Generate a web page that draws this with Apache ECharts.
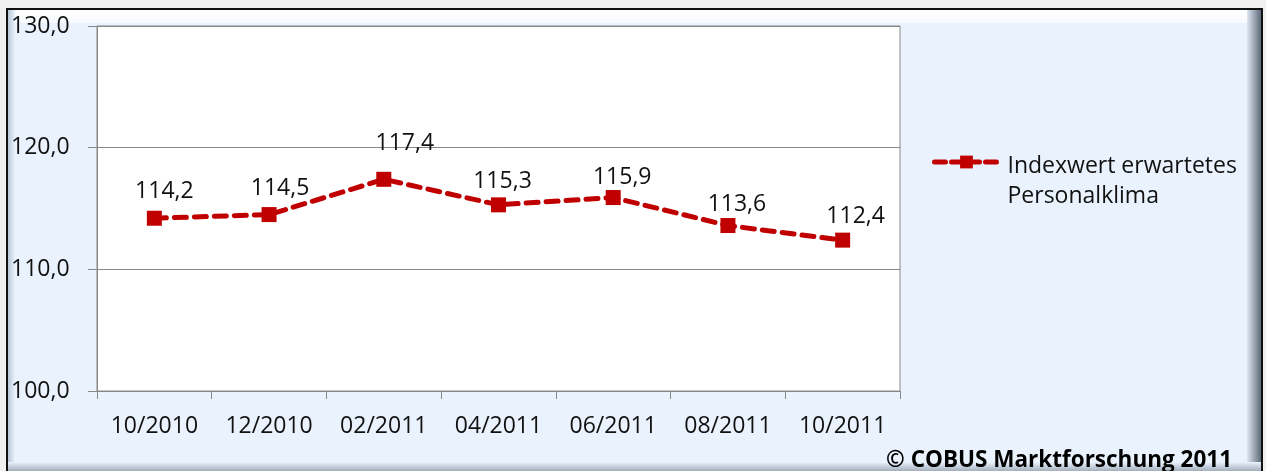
<!DOCTYPE html>
<html><head><meta charset="utf-8">
<script src="https://cdn.jsdelivr.net/npm/echarts@6/dist/echarts.min.js"></script>
<style>html,body{margin:0;padding:0;background:#f0f0f0;}#c{width:1266px;height:471px;}</style>
</head><body><div id="c"></div>
<script>
var categories = ['10/2010','12/2010','02/2011','04/2011','06/2011','08/2011','10/2011'];
var values = [114.2, 114.5, 117.4, 115.3, 115.9, 113.6, 112.4];
var seriesName = 'Indexwert erwartetes Personalklima';
var yTicks = [100, 110, 120, 130];
var copyright = '© COBUS Marktforschung 2011';

// label placement (style only): offsets of each value label from its point, in px
var labelDx = [10, 11, 21, 4, 9, 9, 13];
var labelDy = [-27, -26, -36, -23, -20, -21, -24];

var FONT = '"Open Sans", sans-serif';
var chart = echarts.init(document.getElementById('c'));
function fmt(v){ return v.toFixed(1).replace('.', ','); }
var data = values.map(function(v, i){
  return {value: v, label: {offset: [labelDx[i], labelDy[i]]}};
});
chart.setOption({
  animation: false,
  backgroundColor: '#f0f0f0',
  graphic: [
    {type:'rect', shape:{x:7,y:9,width:1255,height:480}, style:{fill:'#EAF3FD', stroke:'#111', lineWidth:2}, z:-10},
    {type:'rect', shape:{x:8,y:10,width:1253,height:13}, style:{fill:{type:'linear',x:0,y:0,x2:0,y2:1,colorStops:[{offset:0,color:'#ffffff'},{offset:1,color:'#f6faff'}]}}, z:-9},
    {type:'rect', shape:{x:8,y:10,width:7,height:461}, style:{fill:{type:'linear',x:0,y:0,x2:1,y2:0,colorStops:[{offset:0,color:'#b9c6d6'},{offset:1,color:'#EAF3FD'}]}}, z:-9},
    {type:'rect', shape:{x:1247,y:10,width:14,height:461}, style:{fill:{type:'linear',x:0,y:0,x2:1,y2:0,colorStops:[{offset:0,color:'#dfe7f1'},{offset:1,color:'#5f6b7a'}]}}, z:-9},
    {type:'rect', shape:{x:8,y:462,width:1253,height:9}, style:{fill:{type:'linear',x:0,y:0,x2:0,y2:1,colorStops:[{offset:0,color:'#EAF3FD'},{offset:1,color:'#a4afbd'}]}}, z:-9},
    {type:'text', right: 34, top: 449, style:{text: copyright, font: 'bold 22.5px ' + FONT, fill:'#000'}, z:100}
  ],
  grid: {left: 97, top: 26, width: 803, height: 365, show: true, backgroundColor: '#fff', borderColor: '#888', borderWidth: 1},
  legend: {
    left: 927, top: 122, orient: 'vertical',
    itemWidth: 64, itemHeight: 16,
    lineStyle: {width: 5, type: [11, 6], cap: 'round'},
    formatter: function(){ return '{sp| }\n{t|Indexwert erwartetes}\n{t|Personalklima}'; },
    textStyle: {fontFamily: FONT, fontSize: 23, color: '#111', padding: [0, 0, 0, 4],
      rich: {
        sp: {fontSize: 10, lineHeight: 38},
        t: {fontFamily: FONT, fontSize: 23, color: '#111', lineHeight: 30}
      }},
    data: [{name: seriesName}]
  },
  xAxis: {
    type: 'category', data: categories, boundaryGap: true,
    axisLine: {lineStyle: {color: '#888', width: 1}},
    axisTick: {show: true, length: 8, alignWithLabel: false, lineStyle: {color: '#888'}},
    axisLabel: {fontFamily: FONT, fontSize: 23, color: '#111', margin: 24}
  },
  yAxis: {
    type: 'value', min: 100, max: 130, interval: 10,
    axisLine: {show: true, lineStyle: {color: '#888'}},
    axisTick: {show: true, length: 9, lineStyle: {color: '#888'}},
    splitLine: {show: true, lineStyle: {color: '#888', width: 1}},
    axisLabel: {fontFamily: FONT, fontSize: 23, color: '#111', align: 'left', margin: 86,
      formatter: function(v){ return yTicks.indexOf(v) >= 0 ? fmt(v) : ''; }}
  },
  series: [{
    name: seriesName, type: 'line', data: data,
    symbol: 'rect', symbolSize: 15,
    itemStyle: {color: '#C00000'},
    lineStyle: {color: '#C00000', width: 5, type: [12, 8], cap: 'round'},
    label: {show: true, position: 'inside', fontFamily: FONT, fontSize: 23, color: '#111',
      formatter: function(p){ return fmt(p.value); }}
  }]
});
</script></body></html>
